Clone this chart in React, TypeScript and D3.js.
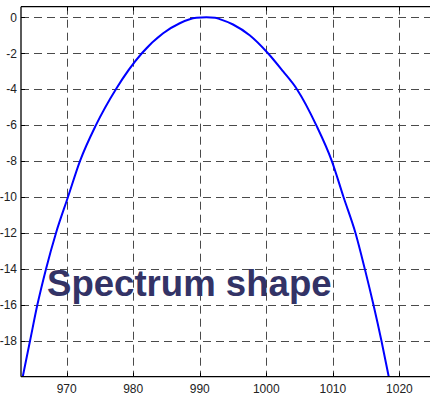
import React from "react";
import * as d3 from "d3";

// Spectrum profile (dB) against wavelength
const wavelength = [963.4, 964.5, 965.6, 966.9, 968.4, 970.2, 972.0, 974.4, 977.4, 981.3, 984.5, 987.0, 989.5, 991.0, 992.3, 993.0, 995.0, 997.5, 1000.25, 1002.5, 1004.6, 1007.5, 1009.85, 1011.6, 1013.4, 1014.8, 1016.1, 1017.3, 1018.4];
const levelDb = [-20, -18, -16, -14, -12, -10, -8, -6, -4, -2, -0.89, -0.33, -0.03, 0, -0.02, -0.1, -0.4, -1.0, -2, -3, -4, -6, -8, -10, -12, -14, -16, -18, -20];

const xTicks = [970, 980, 990, 1000, 1010, 1020];
const yTicks = [0, -2, -4, -6, -8, -10, -12, -14, -16, -18];
const title = "Spectrum shape";

const W = 430;
const H = 395;
const left = 21;
const top = 6.7;
const bottom = 376.7;
const right = 440;

export default function App() {
  const x = d3.scaleLinear().domain([963.14, 1026.1]).range([left, right]);
  const y = d3.scaleLinear().domain([-20, 0.59]).range([bottom, top]);

  const pts: [number, number][] = wavelength.map((w, i) => [w, levelDb[i]]);
  const line = d3
    .line<[number, number]>()
    .x((d) => x(d[0]))
    .y((d) => y(d[1]))
    .curve(d3.curveMonotoneX);

  const font = "'Liberation Sans', Arial, sans-serif";
  const gridStyle = { stroke: "#4a4a4a", strokeWidth: 1, strokeDasharray: "8,5" };

  return (
    <svg
      width={W}
      height={H}
      style={{ position: "absolute", left: 0, top: 0, background: "#fff" }}
    >
      <defs>
        <clipPath id="plot">
          <rect x={left} y={top} width={right - left} height={bottom - top} />
        </clipPath>
      </defs>
      <rect x={0} y={0} width={W} height={H} fill="#fff" />

      {/* grid */}
      {xTicks.map((t) => (
        <line key={"gx" + t} x1={Math.round(x(t)) + 0.5} x2={Math.round(x(t)) + 0.5} y1={top} y2={bottom} {...gridStyle} />
      ))}
      {yTicks.map((t) => (
        <line key={"gy" + t} x1={left} x2={W} y1={Math.round(y(t)) + 0.5} y2={Math.round(y(t)) + 0.5} {...gridStyle} />
      ))}

      {/* tick marks */}
      {xTicks.map((t) => (
        <g key={"tx" + t}>
          <line x1={Math.round(x(t)) + 0.5} x2={Math.round(x(t)) + 0.5} y1={bottom} y2={bottom - 4} stroke="#000" />
          <line x1={Math.round(x(t)) + 0.5} x2={Math.round(x(t)) + 0.5} y1={top} y2={top + 4} stroke="#000" />
        </g>
      ))}
      {yTicks.map((t) => (
        <line key={"ty" + t} x1={left} x2={left + 4} y1={Math.round(y(t)) + 0.5} y2={Math.round(y(t)) + 0.5} stroke="#000" />
      ))}

      {/* spectrum curve */}
      <path d={line(pts) || ""} fill="none" stroke="#0000ff" strokeWidth={2} clipPath="url(#plot)" strokeLinejoin="round" />

      {/* axes */}
      <line x1={left} x2={W} y1={top} y2={top} stroke="#000" strokeWidth={1.3} />
      <line x1={left} x2={W} y1={bottom} y2={bottom} stroke="#000" strokeWidth={1.3} />
      <line x1={left} x2={left} y1={top} y2={bottom} stroke="#000" strokeWidth={1.3} />

      {/* tick labels */}
      {xTicks.map((t) => (
        <text key={"lx" + t} x={x(t)} y={393} textAnchor="middle" fontFamily={font} fontSize={12} fill="#222">
          {t}
        </text>
      ))}
      {yTicks.map((t) => (
        <text key={"ly" + t} x={17} y={y(t) + 4.3} textAnchor="end" fontFamily={font} fontSize={12} fill="#222">
          {t === 0 ? "0" : "-" + Math.abs(t)}
        </text>
      ))}

      <text x={47} y={295.5} fontFamily={font} fontWeight="bold" fontSize={36.6} fill="#333366">
        {title}
      </text>
    </svg>
  );
}
